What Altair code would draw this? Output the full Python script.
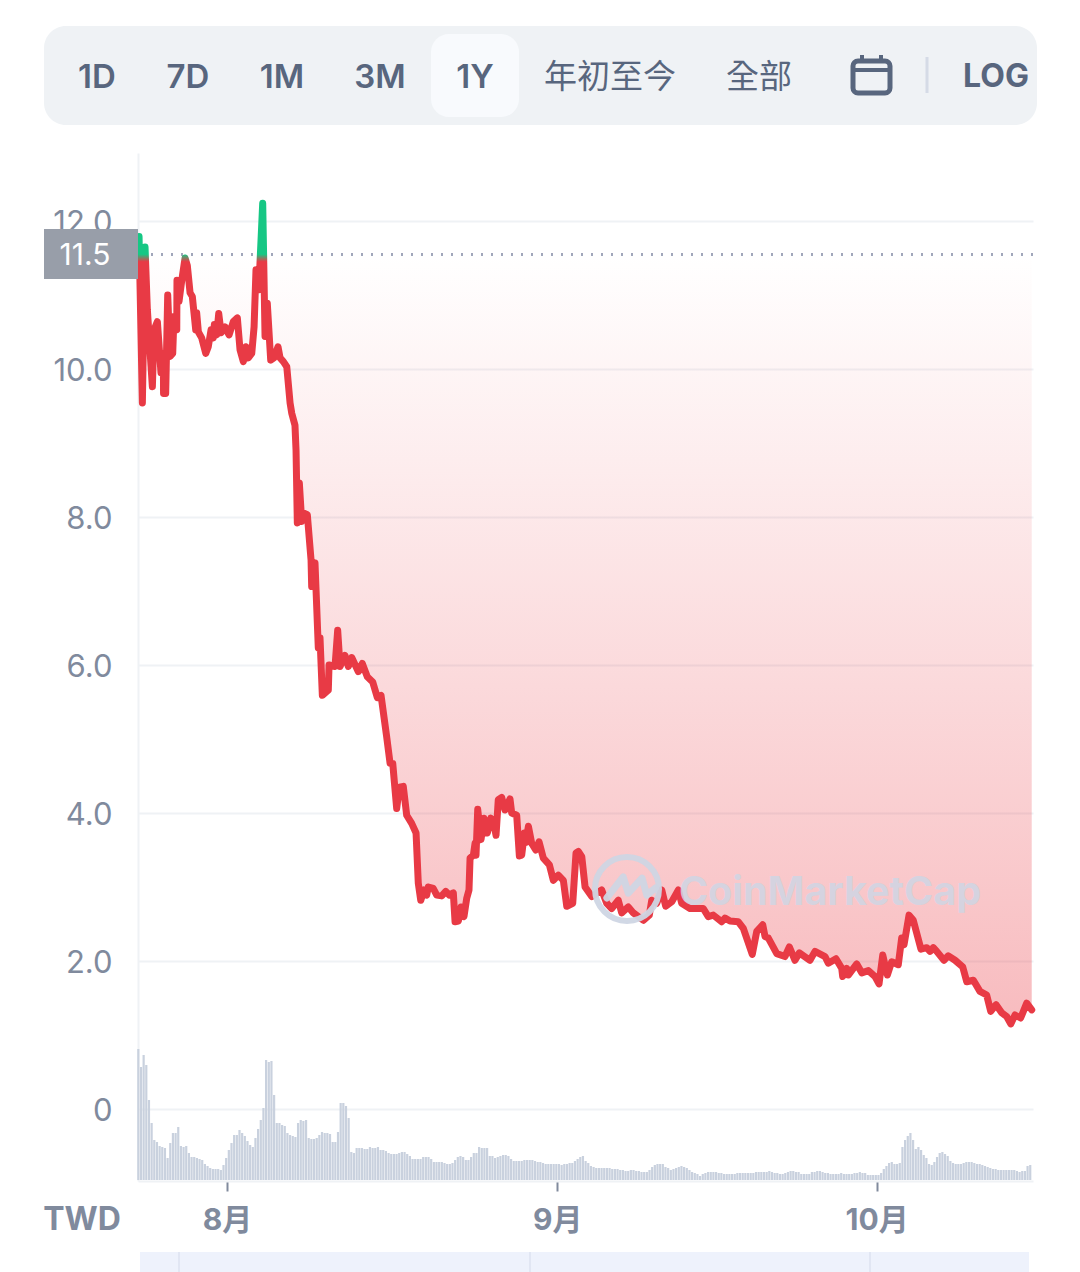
import altair as alt
import pandas as pd

# ---- values ----
line_days = [-8.26,-7.95,-7.70,-7.48,-7.01,-6.85,-6.54,-6.20,-5.98,-5.96,-5.76,-5.57,-5.35,-5.10,-4.98,-4.72,-4.70,-4.51,-4.25,-3.94,
-3.73,-3.47,-3.26,-2.94,-2.85,-2.69,-2.38,-2.00,-1.76,-1.50,-1.29,-1.19,-0.97,-0.78,-0.56,-0.19,0.19,0.59,0.97,1.22,
1.53,1.78,2.00,2.32,2.54,2.72,2.98,3.35,3.57,3.78,4.10,4.41,4.79,4.98,5.29,5.61,5.92,6.08,6.38,6.48,
6.60,6.79,7.01,7.23,7.54,7.89,7.95,8.26,8.57,8.73,8.95,9.51,9.58,10.14,10.39,10.61,11.08,11.39,11.71,12.33,
12.70,13.17,13.68,14.11,14.46,14.99,15.31,15.56,15.93,16.18,16.55,16.87,17.34,17.75,17.96,18.19,18.50,18.75,18.90,19.37,
19.69,20.16,20.54,20.87,21.25,21.41,21.72,21.97,22.25,22.51,22.72,22.82,23.13,23.29,23.38,23.54,23.85,24.13,24.44,24.76,
24.98,25.26,25.47,25.79,26.10,26.57,26.73,27.20,27.45,27.67,27.92,28.05,28.30,28.61,28.99,29.30,29.70,30.27,30.64,31.11,
31.58,31.90,32.46,32.77,32.99,33.31,33.62,34.25,35.18,35.65,36.12,36.74,37.06,37.68,38.15,39.09,39.65,39.88,40.35,40.82,
41.19,41.76,42.38,42.69,43.47,44.72,45.19,45.66,46.45,46.76,47.23,48.01,48.48,49.32,49.74,50.30,50.52,50.83,51.62,52.39,
52.80,53.33,53.74,54.74,55.21,56.15,56.46,57.18,57.72,57.81,58.19,58.34,59.13,59.60,60.22,60.85,61.22,61.57,62.00,62.41,
63.03,63.35,63.57,64.04,64.44,65.16,65.70,66.01,66.32,66.64,67.32,67.73,68.36,69.08,69.46,70.08,70.70,71.33,71.71,72.21,
72.74,73.21,73.59,73.99,74.52,75.09,75.56]
line_prices = [11.79,9.54,11.65,10.80,9.76,10.53,10.64,9.95,10.21,9.67,9.67,11.00,10.17,10.21,10.71,10.53,11.20,10.91,11.20,11.50,
11.40,11.03,10.98,10.53,10.76,10.50,10.42,10.21,10.30,10.53,10.42,10.60,10.46,10.75,10.49,10.57,10.46,10.64,10.69,10.26,
10.10,10.30,10.15,10.21,10.57,11.34,11.07,12.24,10.44,10.89,10.12,10.15,10.30,10.15,10.10,10.03,9.54,9.40,9.24,8.90,
7.92,8.46,7.94,8.05,8.03,7.42,7.06,7.38,6.23,6.37,5.59,5.66,6.00,5.98,6.47,5.98,6.13,5.98,6.10,5.91,
6.02,5.84,5.77,5.56,5.59,5.03,4.67,4.67,4.06,4.35,4.36,3.97,3.86,3.73,3.05,2.82,2.96,2.89,3.00,2.98,
2.89,2.88,2.94,2.89,2.92,2.53,2.54,2.73,2.60,2.85,2.96,3.39,3.43,3.59,3.43,4.05,3.64,3.93,3.73,3.93,
3.90,3.70,4.18,4.21,4.04,4.19,4.00,3.97,3.42,3.43,3.73,3.60,3.82,3.59,3.50,3.61,3.39,3.30,3.09,3.16,
3.09,2.74,2.78,3.46,3.48,3.41,3.00,2.87,2.96,2.78,2.71,2.82,2.65,2.73,2.65,2.55,2.62,2.82,2.78,2.96,
2.74,2.80,2.96,2.78,2.71,2.71,2.60,2.62,2.53,2.58,2.54,2.53,2.44,2.09,2.40,2.49,2.33,2.31,2.10,2.06,
2.19,2.01,2.11,2.01,2.13,2.06,1.97,2.03,1.90,1.79,1.90,1.81,1.96,1.84,1.87,1.79,1.69,2.08,1.81,1.99,
1.95,2.31,2.22,2.62,2.55,2.16,2.18,2.13,2.18,2.13,2.01,2.07,2.01,1.92,1.72,1.74,1.59,1.54,1.32,1.41,
1.30,1.25,1.15,1.27,1.23,1.43,1.34]
volumes = [131,113,125,115,80,57,40,38,34,33,32,22,37,47,47,53,34,33,34,27,23,23,22,21,20,16,14,12,11,11,11,10,15,22,30,37,45,45,50,47,
44,39,35,33,42,51,60,72,120,118,119,85,57,57,55,54,47,45,44,43,57,60,59,60,42,41,41,42,45,48,47,47,46,38,38,48,77,77,74,62,
28,27,32,32,32,31,31,33,32,32,33,30,30,29,27,26,26,26,27,28,28,26,24,21,21,21,21,23,23,23,21,18,18,18,18,17,16,16,17,20,
23,24,23,20,20,23,27,27,33,32,32,32,24,24,22,23,24,25,25,24,21,19,19,19,19,20,20,20,20,19,18,18,17,16,16,16,16,16,16,15,
16,16,17,17,19,21,23,24,19,17,14,13,12,12,12,12,12,12,11,11,11,10,10,9,9,10,10,9,9,8,8,8,10,13,15,16,16,16,13,12,
10,11,12,13,14,13,12,10,8,7,6,4,6,7,8,8,8,8,7,7,6,6,6,6,6,7,7,7,7,7,7,7,8,8,8,8,8,9,8,7,
7,6,6,7,8,9,9,8,8,6,6,6,6,8,8,9,9,8,7,7,6,6,6,6,7,6,6,6,6,7,7,8,7,7,5,5,5,5,5,7,
11,14,17,18,16,16,17,33,40,44,47,40,31,33,30,25,22,16,15,18,23,27,28,26,24,19,17,16,16,16,17,18,18,18,17,16,16,15,14,13,
12,11,11,10,10,10,10,10,10,10,9,8,9,9,14,15]
y_ticks = [0, 2, 4, 6, 8, 10, 12]
range_labels = ["1D", "7D", "1M", "3M", "1Y", "年初至今", "全部"]
current_price = 11.55
current_label = "11.5"
currency = "TWD"
brand = "CoinMarketCap"

# ---- tables ----
base = pd.Timestamp("2021-08-01")
def stamp(d):
    return (base + pd.Timedelta(days=d)).strftime("%Y-%m-%dT%H:%M:%S")

price_df = pd.DataFrame({"t": [stamp(d) for d in line_days], "price": line_prices})
vol_df = pd.DataFrame({"t": [stamp(-8.33 + i * 0.25) for i in range(len(volumes))], "vol": volumes})

# ---- layout ----
L, T, W, H = 130, 145, 895, 1028
def X(px): return px - 8 - L
def Y(py): return py - 8 - T

INK = "#58667e"
MUTED = "#808a9d"
GRID = "#eff2f5"
RED = "#e83a45"
GREEN = "#16c784"
SANS = 'Inter, "Noto Sans CJK TC", sans-serif'

xscale = alt.Scale(domain=[alt.DateTime(year=2021, month=7, date=23, hours=15, minutes=22),
                           alt.DateTime(year=2021, month=10, date=15, hours=16, minutes=19)],
                   nice=False, padding=0)
yscale = alt.Scale(domain=[(1109 - 1181) / 74, (1109 - 153) / 74], nice=False, zero=False)

x_axis = alt.Axis(values=[alt.DateTime(year=2021, month=m, date=1) for m in (8, 9, 10)],
                  labelExpr="(month(datum.value)+1)+'月'", title=None, grid=False,
                  tickSize=10, tickWidth=2, tickColor=MUTED,
                  domainColor=GRID, domainWidth=2,
                  labelFont=SANS, labelFontSize=30, labelFontWeight=700, labelColor=MUTED,
                  labelPadding=14, labelFlush=False, labelOverlap=False)
y_axis = alt.Axis(values=y_ticks, labelExpr="datum.value==0?'0':format(datum.value,'.1f')", title=None,
                  grid=True, gridColor=GRID, gridWidth=2, ticks=False,
                  domainColor=GRID, domainWidth=2, labelOffset=2,
                  labelFont=SANS, labelFontSize=31, labelColor=MUTED, labelPadding=26, labelOverlap=False)

price_x = alt.X("t:T", scale=xscale, axis=x_axis)
axes = alt.Chart(price_df).mark_line(opacity=0).encode(
    x=price_x,
    y=alt.Y("price:Q", scale=yscale, axis=y_axis))

bars = alt.Chart(vol_df).mark_bar(size=2.2, color="#c9d1de").encode(
    x=price_x,
    y=alt.Y("vol:Q", scale=alt.Scale(domain=[-1, H - 1], nice=False, zero=False), axis=None))

area = alt.Chart(price_df).transform_calculate(low=f"min(datum.price,{current_price})").mark_area(
    line=False,
    color=alt.Gradient(gradient="linear", x1=0, x2=0, y1=0, y2=1,
                       stops=[alt.GradientStop(color="rgba(234,57,67,0)", offset=0),
                              alt.GradientStop(color="rgba(234,57,67,0.34)", offset=1)])
).encode(x=price_x, y=alt.Y("low:Q", scale=yscale, axis=None), y2=alt.Y2(datum=current_price))

dots = alt.Chart(price_df).mark_rule(color="#a1a7bb", strokeWidth=2, strokeDash=[2, 8]).encode(
    y=alt.Y(datum=current_price, scale=yscale, axis=None))

top, bottom = max(line_prices), min(line_prices)
f1 = (top - current_price) / (top - bottom)
f2 = (top - current_price + 0.1) / (top - bottom)
line = alt.Chart(price_df).mark_line(
    strokeWidth=7, strokeJoin="round", strokeCap="round",
    stroke=alt.Gradient(gradient="linear", x1=0, x2=0, y1=0, y2=1,
                        stops=[alt.GradientStop(color=GREEN, offset=0),
                               alt.GradientStop(color=GREEN, offset=f1),
                               alt.GradientStop(color=RED, offset=f2),
                               alt.GradientStop(color=RED, offset=1)])
).encode(x=price_x, y=alt.Y("price:Q", scale=yscale, axis=None))

def box(x0, x1, y0, y1, **kw):
    return alt.Chart().mark_rect(**kw).encode(x=alt.value(X(x0)), x2=alt.value(X(x1)),
                                              y=alt.value(Y(y0)), y2=alt.value(Y(y1)))
def label(s, x, y, **kw):
    opts = dict(font=SANS, baseline="middle", align="center")
    opts.update(kw)
    return alt.Chart().mark_text(text=s, **opts).encode(x=alt.value(X(x)), y=alt.value(Y(y)))
def seg(x0, y0, x1, y1, **kw):
    return alt.Chart().mark_rule(**kw).encode(x=alt.value(X(x0)), x2=alt.value(X(x1)),
                                              y=alt.value(Y(y0)), y2=alt.value(Y(y1)))

WM = "#cfd6e4"
watermark = [
    alt.Chart().mark_point(shape="circle", size=4096, filled=False, color=WM, strokeWidth=6, opacity=0.95).encode(
        x=alt.value(X(627)), y=alt.value(Y(889))),
    alt.Chart().mark_point(shape="M-.63,.28L-.12,-.38L.04,.13L.47,-.34L.62,.19L.89,-.03", size=4096, filled=False,
                           color=WM, strokeWidth=7, opacity=0.95, strokeJoin="round", strokeCap="round").encode(
        x=alt.value(X(627)), y=alt.value(Y(889))),
    label(brand, 830, 893, fontSize=39.5, fontWeight=700, color=WM, opacity=0.85),
]

toolbar = [box(44, 1037, 26, 125, color="#eff2f5", cornerRadius=22),
           box(431, 519, 34, 117, color="#f8fafd", cornerRadius=18)]
for s, cx in zip(range_labels, [97, 188, 282, 380, 475, 610, 759]):
    weight = 600 if s.isascii() else 400
    toolbar.append(label(s, cx, 78, fontSize=33, fontWeight=weight, color=INK))
toolbar += [
    box(853, 890, 61, 93, fillOpacity=0, stroke=INK, strokeWidth=5, cornerRadius=5),
    seg(853, 70, 890, 70, color=INK, strokeWidth=4),
    seg(862, 55, 862, 62, color=INK, strokeWidth=4),
    seg(881, 55, 881, 62, color=INK, strokeWidth=4),
    seg(927, 57, 927, 93, color="#d5dbe6", strokeWidth=3),
    label("LOG", 996, 77, fontSize=32, fontWeight=700, color=INK),
]

price_tag = [box(44, 138, 229, 279, color="#989ea9"),
             label(current_label, 85, 256, fontSize=30, color="#ffffff")]
footer = [label(currency, 82, 1220, fontSize=32, fontWeight=700, color=MUTED),
          box(140, 1029, 1252, 1272, color="#eef2fc"),
          seg(179, 1252, 179, 1272, color="#e1e6f3", strokeWidth=2),
          seg(530, 1252, 530, 1272, color="#e1e6f3", strokeWidth=2),
          seg(870, 1252, 870, 1272, color="#e1e6f3", strokeWidth=2)]

chart = alt.layer(axes, bars, area, dots, line, *watermark, *toolbar, *price_tag, *footer).resolve_scale(
    y="independent"
).properties(
    width=W, height=H,
    background="#ffffff",
    autosize=alt.AutoSizeParams(type="none"),
    padding={"left": L, "top": T, "right": 1080 - 16 - L - W, "bottom": 1272 - 8 - T - H},
).configure_view(stroke=None)

chart.save("out.html", embed_options={"renderer": "svg", "actions": False})
